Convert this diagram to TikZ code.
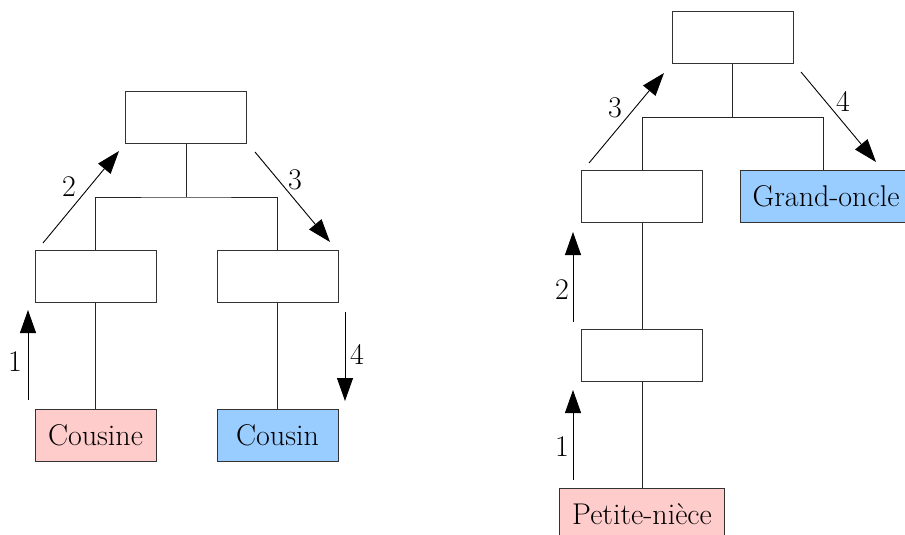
\documentclass[tikz,border=0pt]{standalone}
\usetikzlibrary{arrows.meta}
\definecolor{pinkbox}{HTML}{FFCCCC}
\definecolor{bluebox}{HTML}{99CCFF}
\tikzset{
    person/.style={draw=black!80, line width=1pt, minimum width=121pt, minimum height=52pt, inner sep=0pt},
    link/.style={black!85, line width=0.9pt},
    path arrow/.style={-{Triangle[length=23pt,width=16pt]}, black, line width=0.9pt},
    stepnum/.style={inner sep=0pt}
}
\begin{document}
\begin{tikzpicture}[x=1pt, y=-1pt, font=\fontsize{30}{34}\selectfont]
    \clip (0,0) rectangle (905,535);

    % Left tree: cousine -> cousin
    \node[person] (ltop) at (186,117) {};
    \node[person] (lmidA) at (95.5,276) {};
    \node[person] (lmidB) at (277.5,276) {};
    \node[person, fill=pinkbox] (cousine) at (95.5,435) {Cousine};
    \node[person, fill=bluebox] (cousin) at (277.5,435) {Cousin};

    \coordinate (lbranch) at (186,197);
    \draw[link] (ltop.south) -- (lbranch);
    \draw[link] (lmidA.north) |- (lbranch) -| (lmidB.north);
    \draw[link] (lmidA.south) -- (cousine.north);
    \draw[link] (lmidB.south) -- (cousin.north);

    % Steps, left tree
    \coordinate (la1) at (28,400);
    \coordinate (lb1) at (28,310);
    \coordinate (la2) at (43,243);
    \coordinate (lb2) at (119,151);
    \coordinate (la3) at (255,152);
    \coordinate (lb3) at (330,242);
    \coordinate (la4) at (345,312);
    \coordinate (lb4) at (345,401);
    \draw[path arrow] (la1) -- (lb1);
    \draw[path arrow] (la2) -- (lb2);
    \draw[path arrow] (la3) -- (lb3);
    \draw[path arrow] (la4) -- (lb4);
    \node[stepnum] (ln1) at (15,362) {1};
    \node[stepnum] (ln2) at (69,187) {2};
    \node[stepnum] (ln3) at (295,180) {3};
    \node[stepnum] (ln4) at (357,354) {4};

    % Right tree: petite-niece -> grand-oncle
    \node[person] (rtop) at (732.5,37.5) {};
    \node[person] (rmidA) at (642,196) {};
    \node[person, fill=bluebox, minimum width=172pt] (grandoncle) at (826,196) {Grand-oncle};
    \node[person] (rlow) at (642,355.5) {};
    \node[person, fill=pinkbox, minimum width=165pt] (petiteniece) at (642,514) {Petite-nièce};

    \coordinate (rbranch) at (732.5,117);
    \coordinate (gobranch) at (823,117);
    \draw[link] (rtop.south) -- (rbranch);
    \draw[link] (rmidA.north) |- (gobranch) -- (gobranch |- grandoncle.north);
    \draw[link] (rmidA.south) -- (rlow.north);
    \draw[link] (rlow.south) -- (petiteniece.north);

    % Steps, right tree
    \coordinate (ra1) at (573,480);
    \coordinate (rb1) at (573,390);
    \coordinate (ra2) at (573,322);
    \coordinate (rb2) at (573,232);
    \coordinate (ra3) at (589,163);
    \coordinate (rb3) at (664,73);
    \coordinate (ra4) at (801,72);
    \coordinate (rb4) at (876,162);
    \draw[path arrow] (ra1) -- (rb1);
    \draw[path arrow] (ra2) -- (rb2);
    \draw[path arrow] (ra3) -- (rb3);
    \draw[path arrow] (ra4) -- (rb4);
    \node[stepnum] (rn1) at (562,447) {1};
    \node[stepnum] (rn2) at (562,290) {2};
    \node[stepnum] (rn3) at (615,108) {3};
    \node[stepnum] (rn4) at (843,101) {4};
\end{tikzpicture}
\end{document}
